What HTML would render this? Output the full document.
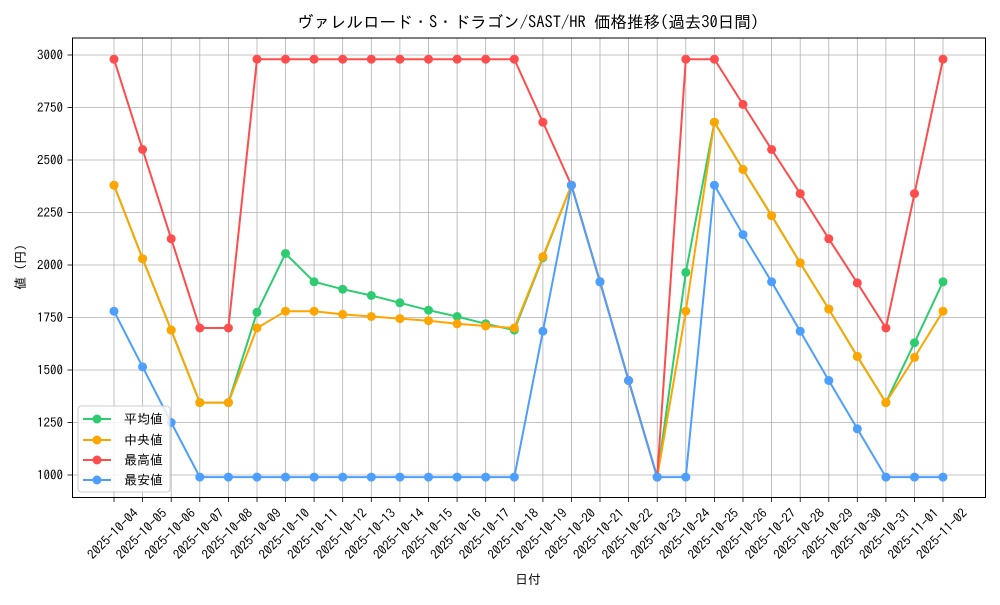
<!DOCTYPE html>
<html><head><meta charset="utf-8"><style>
body{margin:0;background:#fff}
svg text{font-family:"IPAGothic","Noto Sans CJK JP",sans-serif;fill:#000}
</style></head><body>
<svg width="1000" height="600" viewBox="0 0 1000 600" xmlns="http://www.w3.org/2000/svg">
<defs>
<marker id="mg" markerWidth="10" markerHeight="10" refX="5" refY="5" markerUnits="userSpaceOnUse"><circle cx="5" cy="5" r="4.5" fill="#2ecc71"/></marker>
<marker id="mo" markerWidth="10" markerHeight="10" refX="5" refY="5" markerUnits="userSpaceOnUse"><circle cx="5" cy="5" r="4.5" fill="#ffa500"/></marker>
<marker id="mr" markerWidth="10" markerHeight="10" refX="5" refY="5" markerUnits="userSpaceOnUse"><circle cx="5" cy="5" r="4.5" fill="#ff4d4d"/></marker>
<marker id="mb" markerWidth="10" markerHeight="10" refX="5" refY="5" markerUnits="userSpaceOnUse"><circle cx="5" cy="5" r="4.5" fill="#4d9fff"/></marker>
</defs>
<rect width="1000" height="600" fill="#fff"/>
<g stroke="#b0b0b0" stroke-width="0.8">
<line x1="114" y1="38" x2="114" y2="497"/><line x1="142.6" y1="38" x2="142.6" y2="497"/><line x1="171.2" y1="38" x2="171.2" y2="497"/><line x1="199.8" y1="38" x2="199.8" y2="497"/><line x1="228.4" y1="38" x2="228.4" y2="497"/><line x1="257" y1="38" x2="257" y2="497"/><line x1="285.5" y1="38" x2="285.5" y2="497"/><line x1="314.1" y1="38" x2="314.1" y2="497"/><line x1="342.7" y1="38" x2="342.7" y2="497"/><line x1="371.3" y1="38" x2="371.3" y2="497"/><line x1="399.9" y1="38" x2="399.9" y2="497"/><line x1="428.5" y1="38" x2="428.5" y2="497"/><line x1="457.1" y1="38" x2="457.1" y2="497"/><line x1="485.7" y1="38" x2="485.7" y2="497"/><line x1="514.3" y1="38" x2="514.3" y2="497"/><line x1="542.9" y1="38" x2="542.9" y2="497"/><line x1="571.4" y1="38" x2="571.4" y2="497"/><line x1="600" y1="38" x2="600" y2="497"/><line x1="628.6" y1="38" x2="628.6" y2="497"/><line x1="657.2" y1="38" x2="657.2" y2="497"/><line x1="685.8" y1="38" x2="685.8" y2="497"/><line x1="714.4" y1="38" x2="714.4" y2="497"/><line x1="743" y1="38" x2="743" y2="497"/><line x1="771.6" y1="38" x2="771.6" y2="497"/><line x1="800.2" y1="38" x2="800.2" y2="497"/><line x1="828.8" y1="38" x2="828.8" y2="497"/><line x1="857.3" y1="38" x2="857.3" y2="497"/><line x1="885.9" y1="38" x2="885.9" y2="497"/><line x1="914.5" y1="38" x2="914.5" y2="497"/><line x1="943" y1="38" x2="943" y2="497"/>
<line x1="72" y1="475" x2="985" y2="475"/><line x1="72" y1="422.5" x2="985" y2="422.5"/><line x1="72" y1="370" x2="985" y2="370"/><line x1="72" y1="317.5" x2="985" y2="317.5"/><line x1="72" y1="265" x2="985" y2="265"/><line x1="72" y1="212.5" x2="985" y2="212.5"/><line x1="72" y1="160" x2="985" y2="160"/><line x1="72" y1="107.5" x2="985" y2="107.5"/><line x1="72" y1="55" x2="985" y2="55"/>
</g>
<g fill="none" stroke-width="2">
<polyline stroke="#2ecc71" marker-start="url(#mg)" marker-mid="url(#mg)" marker-end="url(#mg)" points="114,185.2 142.6,258.7 171.2,330.1 199.8,402.6 228.4,402.6 257,312.3 285.5,253.5 314.1,281.8 342.7,289.2 371.3,295.5 399.9,302.8 428.5,310.2 457.1,316.5 485.7,323.8 514.3,330.1 542.9,257.7 571.4,185.2 600,281.8 628.6,380.5 657.2,477.1 685.8,272.4 714.4,122.2 743,169.5 771.6,215.7 800.2,262.9 828.8,309.1 857.3,356.4 885.9,402.6 914.5,342.7 943,281.8"/>
<polyline stroke="#ffa500" marker-start="url(#mo)" marker-mid="url(#mo)" marker-end="url(#mo)" points="114,185.2 142.6,258.7 171.2,330.1 199.8,402.6 228.4,402.6 257,328 285.5,311.2 314.1,311.2 342.7,314.4 371.3,316.5 399.9,318.6 428.5,320.7 457.1,323.8 485.7,326 514.3,328 542.9,256.6 571.4,185.2 600,281.8 628.6,380.5 657.2,477.1 685.8,311.2 714.4,122.2 743,169.5 771.6,215.7 800.2,262.9 828.8,309.1 857.3,356.4 885.9,402.6 914.5,357.4 943,311.2"/>
<polyline stroke="#ff4d4d" marker-start="url(#mr)" marker-mid="url(#mr)" marker-end="url(#mr)" points="114,59.2 142.6,149.5 171.2,238.8 199.8,328 228.4,328 257,59.2 285.5,59.2 314.1,59.2 342.7,59.2 371.3,59.2 399.9,59.2 428.5,59.2 457.1,59.2 485.7,59.2 514.3,59.2 542.9,122.2 571.4,185.2 600,281.8 628.6,380.5 657.2,477.1 685.8,59.2 714.4,59.2 743,104.4 771.6,149.5 800.2,193.6 828.8,238.8 857.3,282.9 885.9,328 914.5,193.6 943,59.2"/>
<polyline stroke="#4d9fff" marker-start="url(#mb)" marker-mid="url(#mb)" marker-end="url(#mb)" points="114,311.2 142.6,366.9 171.2,422.5 199.8,477.1 228.4,477.1 257,477.1 285.5,477.1 314.1,477.1 342.7,477.1 371.3,477.1 399.9,477.1 428.5,477.1 457.1,477.1 485.7,477.1 514.3,477.1 542.9,331.2 571.4,185.2 600,281.8 628.6,380.5 657.2,477.1 685.8,477.1 714.4,185.2 743,234.6 771.6,281.8 800.2,331.2 828.8,380.5 857.3,428.8 885.9,477.1 914.5,477.1 943,477.1"/>
</g>
<rect x="72.5" y="38" width="913" height="459.5" fill="none" stroke="#000" stroke-width="1"/>
<g stroke="#000" stroke-width="0.8">
<line x1="67.5" y1="475" x2="72.5" y2="475"/><line x1="67.5" y1="422.5" x2="72.5" y2="422.5"/><line x1="67.5" y1="370" x2="72.5" y2="370"/><line x1="67.5" y1="317.5" x2="72.5" y2="317.5"/><line x1="67.5" y1="265" x2="72.5" y2="265"/><line x1="67.5" y1="212.5" x2="72.5" y2="212.5"/><line x1="67.5" y1="160" x2="72.5" y2="160"/><line x1="67.5" y1="107.5" x2="72.5" y2="107.5"/><line x1="67.5" y1="55" x2="72.5" y2="55"/>
<line x1="114" y1="497.5" x2="114" y2="502"/><line x1="142.6" y1="497.5" x2="142.6" y2="502"/><line x1="171.2" y1="497.5" x2="171.2" y2="502"/><line x1="199.8" y1="497.5" x2="199.8" y2="502"/><line x1="228.4" y1="497.5" x2="228.4" y2="502"/><line x1="257" y1="497.5" x2="257" y2="502"/><line x1="285.5" y1="497.5" x2="285.5" y2="502"/><line x1="314.1" y1="497.5" x2="314.1" y2="502"/><line x1="342.7" y1="497.5" x2="342.7" y2="502"/><line x1="371.3" y1="497.5" x2="371.3" y2="502"/><line x1="399.9" y1="497.5" x2="399.9" y2="502"/><line x1="428.5" y1="497.5" x2="428.5" y2="502"/><line x1="457.1" y1="497.5" x2="457.1" y2="502"/><line x1="485.7" y1="497.5" x2="485.7" y2="502"/><line x1="514.3" y1="497.5" x2="514.3" y2="502"/><line x1="542.9" y1="497.5" x2="542.9" y2="502"/><line x1="571.4" y1="497.5" x2="571.4" y2="502"/><line x1="600" y1="497.5" x2="600" y2="502"/><line x1="628.6" y1="497.5" x2="628.6" y2="502"/><line x1="657.2" y1="497.5" x2="657.2" y2="502"/><line x1="685.8" y1="497.5" x2="685.8" y2="502"/><line x1="714.4" y1="497.5" x2="714.4" y2="502"/><line x1="743" y1="497.5" x2="743" y2="502"/><line x1="771.6" y1="497.5" x2="771.6" y2="502"/><line x1="800.2" y1="497.5" x2="800.2" y2="502"/><line x1="828.8" y1="497.5" x2="828.8" y2="502"/><line x1="857.3" y1="497.5" x2="857.3" y2="502"/><line x1="885.9" y1="497.5" x2="885.9" y2="502"/><line x1="914.5" y1="497.5" x2="914.5" y2="502"/><line x1="943" y1="497.5" x2="943" y2="502"/>
</g>
<g font-size="13" text-anchor="end">
<text x="63" y="479.5">1000</text><text x="63" y="427">1250</text><text x="63" y="374.5">1500</text><text x="63" y="322">1750</text><text x="63" y="269.5">2000</text><text x="63" y="217">2250</text><text x="63" y="164.5">2500</text><text x="63" y="112">2750</text><text x="63" y="59.5">3000</text>
</g>
<g font-size="13" text-anchor="end">
<text transform="translate(139,514) rotate(-45)">2025-10-04</text><text transform="translate(167.6,514) rotate(-45)">2025-10-05</text><text transform="translate(196.2,514) rotate(-45)">2025-10-06</text><text transform="translate(224.8,514) rotate(-45)">2025-10-07</text><text transform="translate(253.4,514) rotate(-45)">2025-10-08</text><text transform="translate(282,514) rotate(-45)">2025-10-09</text><text transform="translate(310.5,514) rotate(-45)">2025-10-10</text><text transform="translate(339.1,514) rotate(-45)">2025-10-11</text><text transform="translate(367.7,514) rotate(-45)">2025-10-12</text><text transform="translate(396.3,514) rotate(-45)">2025-10-13</text><text transform="translate(424.9,514) rotate(-45)">2025-10-14</text><text transform="translate(453.5,514) rotate(-45)">2025-10-15</text><text transform="translate(482.1,514) rotate(-45)">2025-10-16</text><text transform="translate(510.7,514) rotate(-45)">2025-10-17</text><text transform="translate(539.3,514) rotate(-45)">2025-10-18</text><text transform="translate(567.9,514) rotate(-45)">2025-10-19</text><text transform="translate(596.4,514) rotate(-45)">2025-10-20</text><text transform="translate(625,514) rotate(-45)">2025-10-21</text><text transform="translate(653.6,514) rotate(-45)">2025-10-22</text><text transform="translate(682.2,514) rotate(-45)">2025-10-23</text><text transform="translate(710.8,514) rotate(-45)">2025-10-24</text><text transform="translate(739.4,514) rotate(-45)">2025-10-25</text><text transform="translate(768,514) rotate(-45)">2025-10-26</text><text transform="translate(796.6,514) rotate(-45)">2025-10-27</text><text transform="translate(825.2,514) rotate(-45)">2025-10-28</text><text transform="translate(853.8,514) rotate(-45)">2025-10-29</text><text transform="translate(882.3,514) rotate(-45)">2025-10-30</text><text transform="translate(910.9,514) rotate(-45)">2025-10-31</text><text transform="translate(939.5,514) rotate(-45)">2025-11-01</text><text transform="translate(968,514) rotate(-45)">2025-11-02</text>
</g>
<text x="528" y="28" font-size="16.5" text-anchor="middle">ヴァレルロード・S・ドラゴン/SAST/HR 価格推移(過去30日間)</text>
<text x="528" y="584" font-size="13" text-anchor="middle">日付</text>
<text transform="translate(25,267) rotate(-90)" font-size="13" text-anchor="middle">値 (円)</text>
<rect x="78" y="406" width="92" height="86" rx="3" fill="#fff" fill-opacity="0.8" stroke="#ccc"/>
<g stroke-width="2">
<line x1="83" y1="419" x2="111" y2="419" stroke="#2ecc71"/><circle cx="97" cy="419" r="4.5" fill="#2ecc71"/>
<line x1="83" y1="440" x2="111" y2="440" stroke="#ffa500"/><circle cx="97" cy="440" r="4.5" fill="#ffa500"/>
<line x1="83" y1="460" x2="111" y2="460" stroke="#ff4d4d"/><circle cx="97" cy="460" r="4.5" fill="#ff4d4d"/>
<line x1="83" y1="480" x2="111" y2="480" stroke="#4d9fff"/><circle cx="97" cy="480" r="4.5" fill="#4d9fff"/>
</g>
<g font-size="13">
<text x="124" y="423.5">平均値</text><text x="124" y="444.5">中央値</text><text x="124" y="464.5">最高値</text><text x="124" y="484.5">最安値</text>
</g>
</svg>
</body></html>
